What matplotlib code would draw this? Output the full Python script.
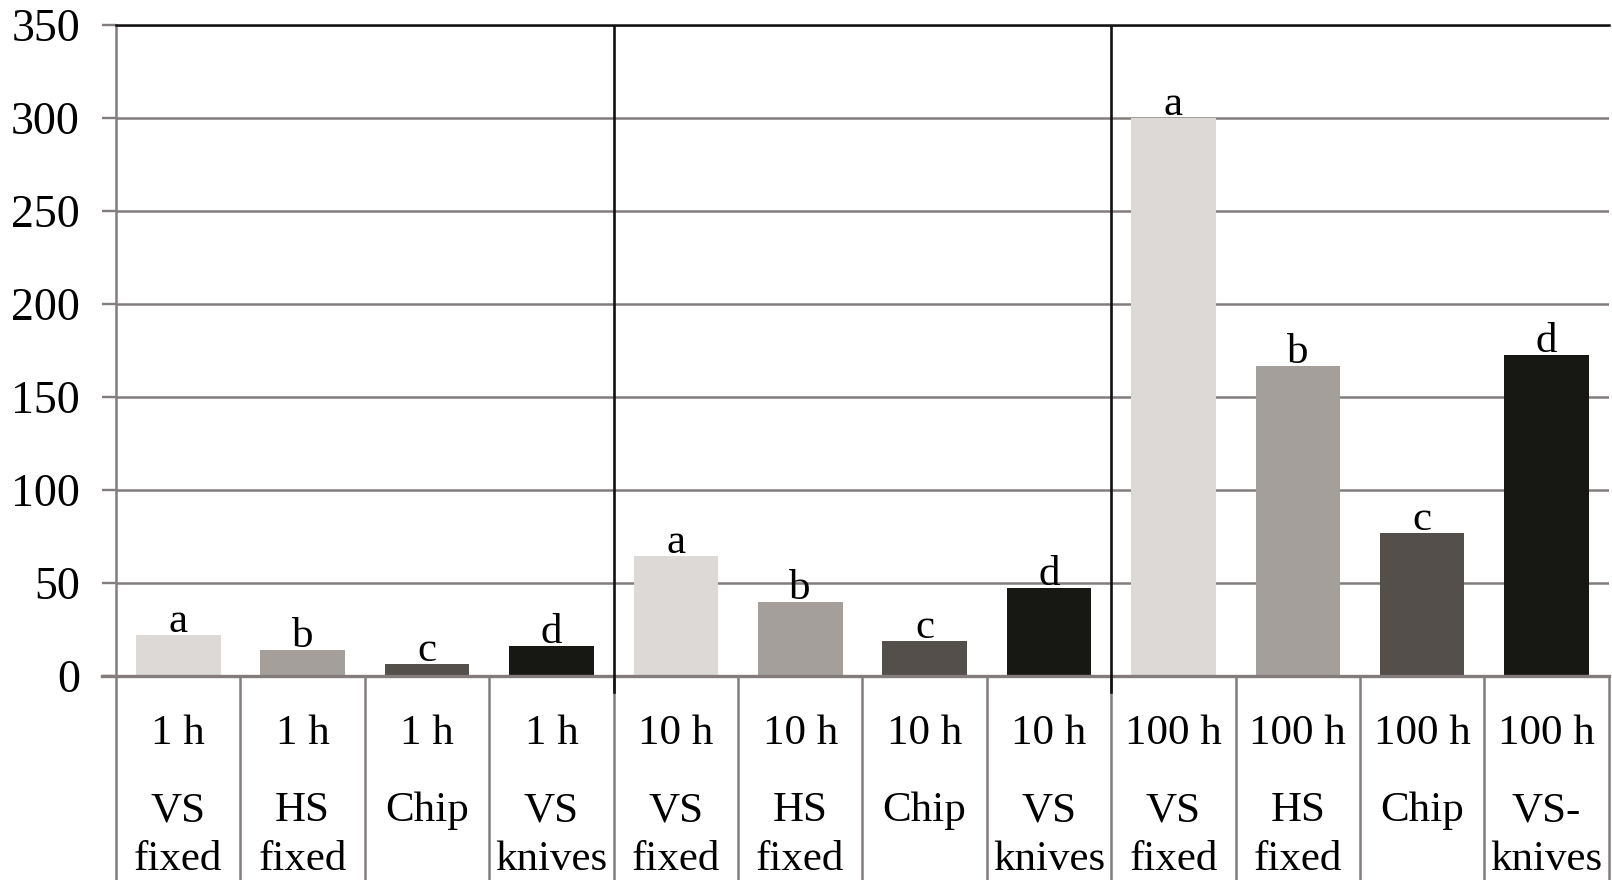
import matplotlib.pyplot as plt
import numpy as np

plt.rcParams['font.family'] = ['Liberation Serif', 'DejaVu Serif']

# data
times = ["1 h"] * 4 + ["10 h"] * 4 + ["100 h"] * 4
method_top = ["VS", "HS", "Chip", "VS"] * 2 + ["VS", "HS", "Chip", "VS-"]
method_bot = ["fixed", "fixed", "", "knives"] * 2 + ["fixed", "fixed", "", "knives"]
values = [22, 14, 6.6, 16, 64.6, 39.8, 18.8, 47.5, 300, 166.8, 76.8, 172.8]
letters = ["a", "b", "c", "d"] * 3
colors = ["#ddd9d7", "#a59f9c", "#554f4c", "#171814"] * 3

grid_col = "#827d7c"

fig = plt.figure(figsize=(16.12, 8.80), dpi=100)
ax = fig.add_axes([0.072, 0.2318, 0.926, 0.740])

x = np.arange(len(values))
ax.bar(x, values, width=0.68, color=colors, zorder=3)

ax.set_xlim(-0.5, len(values) - 0.5)
ax.set_ylim(0, 350)
ax.set_yticks(np.arange(0, 351, 50))
ax.tick_params(axis='y', labelsize=33, length=10, width=1.7, color=grid_col, pad=16)
ax.set_xticks([])

for y in np.arange(50, 351, 50):
    ax.axhline(y, color=grid_col, lw=1.8, zorder=1)

for s in ['right', 'bottom']:
    ax.spines[s].set_visible(False)
ax.spines['left'].set_color(grid_col)
ax.spines['left'].set_linewidth(1.8)
ax.spines['top'].set_color('#111111')
ax.spines['top'].set_linewidth(1.8)

trans = ax.get_xaxis_transform()
# zero line reaching under the tick area
ax.plot([-0.5 - 0.11, len(values) - 0.5], [0, 0], color=grid_col, lw=2.4, clip_on=False, zorder=4)

# table cell separators below the axis
for k in range(len(values) + 1):
    ax.plot([k - 0.5, k - 0.5], [0, -0.4], transform=trans, color=grid_col, lw=1.8, clip_on=False)

# group dividers
for k in [4, 8]:
    ax.plot([k - 0.5, k - 0.5], [0.0, 1.0], transform=trans, color='#111111', lw=1.9, zorder=5)
    ax.plot([k - 0.5, k - 0.5], [-0.025, 0.0], transform=trans, color='#111111', lw=1.9,
            clip_on=False, zorder=5)

for i in range(len(values)):
    ax.text(i, -0.104, times[i], transform=trans, ha='center', va='baseline', fontsize=31)
    ax.text(i, -0.223, method_top[i], transform=trans, ha='center', va='baseline', fontsize=31)
    ax.text(i, -0.298, method_bot[i], transform=trans, ha='center', va='baseline', fontsize=31)
    ax.annotate(letters[i], (i, values[i]), xytext=(0, 2), textcoords='offset points',
                ha='center', va='baseline', fontsize=31, zorder=6)

fig.savefig("out.png", dpi=100)
